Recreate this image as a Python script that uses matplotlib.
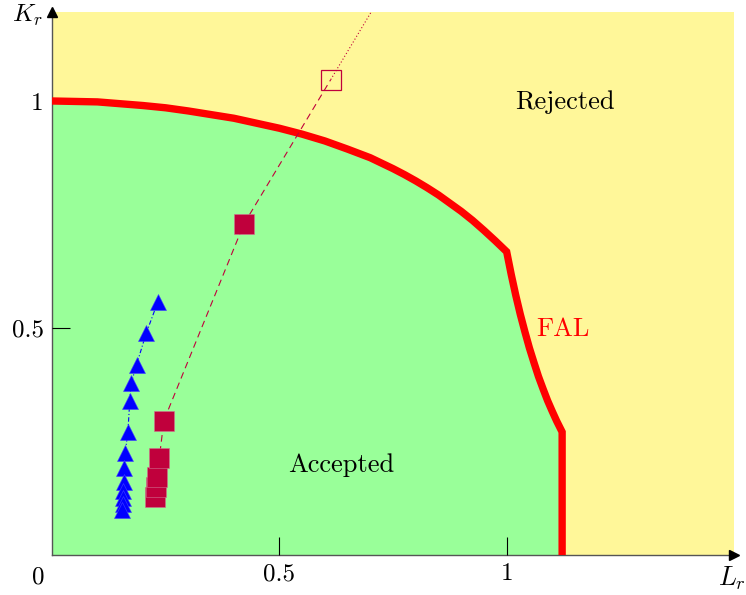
import matplotlib
matplotlib.use("Agg")
import matplotlib.pyplot as plt

plt.rcParams['font.family'] = 'serif'
plt.rcParams['font.serif'] = ['cmr10']
plt.rcParams['mathtext.fontset'] = 'cm'
plt.rcParams['axes.formatter.use_mathtext'] = True

# failure assessment line
fal_lr = [0.0, 0.05, 0.1, 0.15, 0.2, 0.25, 0.3, 0.35, 0.4, 0.45, 0.5, 0.55, 0.6, 0.65,
          0.7, 0.725, 0.75, 0.775, 0.8, 0.825, 0.85, 0.875, 0.9, 0.925, 0.95, 0.975, 1.0,
          1.01, 1.02, 1.03, 1.04, 1.05, 1.06, 1.07, 1.08, 1.09, 1.10, 1.11, 1.122, 1.122]
fal_kr = [1.0, 0.999, 0.998, 0.994, 0.990, 0.985, 0.978, 0.970, 0.962, 0.951, 0.940, 0.927, 0.912, 0.894,
          0.875, 0.863, 0.851, 0.838, 0.824, 0.809, 0.793, 0.775, 0.757, 0.737, 0.715, 0.692, 0.668,
          0.618, 0.572, 0.530, 0.492, 0.456, 0.424, 0.393, 0.366, 0.340, 0.317, 0.295, 0.271, 0.0]

# blue triangles
tri_lr = [0.233, 0.207, 0.186, 0.174, 0.171, 0.167, 0.161, 0.159, 0.158, 0.157, 0.156, 0.156, 0.155]
tri_kr = [0.558, 0.488, 0.419, 0.378, 0.339, 0.272, 0.225, 0.191, 0.161, 0.141, 0.126, 0.112, 0.099]

# red squares
sq_lr = [0.227, 0.229, 0.231, 0.236, 0.246, 0.422]
sq_kr = [0.128, 0.150, 0.172, 0.213, 0.296, 0.729]
open_lr = [0.613]
open_kr = [1.047]
extra_lr = [0.613, 0.702]
extra_kr = [1.047, 1.196]

green = '#99ff99'
yellow = '#fff799'
crimson = '#c0003c'

fig = plt.figure(figsize=(7.46, 5.95), dpi=100)
ax = fig.add_axes([52/746, 40/595, 682/746, 543/595])
ax.set_facecolor(yellow)
ax.set_xlim(0, 1.5)
ax.set_ylim(0, 1.196)

ax.fill([0] + fal_lr, [0] + fal_kr, color=green, lw=0, zorder=1)
ax.plot(fal_lr, fal_kr, color='red', lw=5.3, solid_joinstyle='miter', zorder=3)

ax.plot(sq_lr + open_lr, sq_kr + open_kr, color=crimson, lw=0.8, ls=(0, (6, 4)), zorder=4)
ax.plot(extra_lr, extra_kr, color=crimson, lw=0.8, ls=(0, (1, 2)), zorder=4)
ax.plot(sq_lr, sq_kr, 's', color=crimson, ms=14, mec='#d07090', mew=0.4, zorder=5)
ax.plot(open_lr, open_kr, 's', mfc='none', mec=crimson, ms=14, mew=0.9, zorder=5)

ax.plot(tri_lr, tri_kr, color='blue', lw=0.8, ls=(0, (4, 2, 1, 2)), zorder=4)
ax.plot(tri_lr, tri_kr, '^', color='blue', ms=12, mec='#4040ff', mew=0.4, zorder=6)

ax.text(1.127, 0.998, 'Rejected', fontsize=19, ha='center', va='center')
ax.text(0.637, 0.198, 'Accepted', fontsize=19, ha='center', va='center')
ax.text(1.124, 0.497, 'FAL', fontsize=19, color='red', ha='center', va='center')

for s in ['top', 'right']:
    ax.spines[s].set_visible(False)
for s in ['left', 'bottom']:
    ax.spines[s].set_color('#555555')
    ax.spines[s].set_linewidth(1.0)
ax.set_axisbelow(False)

ax.set_xticks([0.5, 1.0])
ax.set_xticklabels(['0.5', '1'])
ax.set_yticks([0.5, 1.0])
ax.set_yticklabels(['0.5', '1'])
ax.tick_params(direction='in', length=13, width=0.8, color='black', labelsize=18, pad=6)

ax.plot(1, 0, '>', color='black', ms=7, transform=ax.transAxes, clip_on=False, zorder=10)
ax.plot(0, 1, '^', color='black', ms=7, transform=ax.transAxes, clip_on=False, zorder=10)

ax.annotate('0', xy=(0, 0), xytext=(-14, -22), textcoords='offset pixels',
            fontsize=18, ha='center', va='center')
ax.annotate('$K_r$', xy=(0, 1), xycoords='axes fraction', xytext=(-25, -3),
            textcoords='offset pixels', fontsize=18, ha='center', va='center')
ax.annotate('$L_r$', xy=(1, 0), xycoords='axes fraction', xytext=(-2, -23),
            textcoords='offset pixels', fontsize=19, ha='center', va='center')

fig.savefig('out.png', dpi=100)
